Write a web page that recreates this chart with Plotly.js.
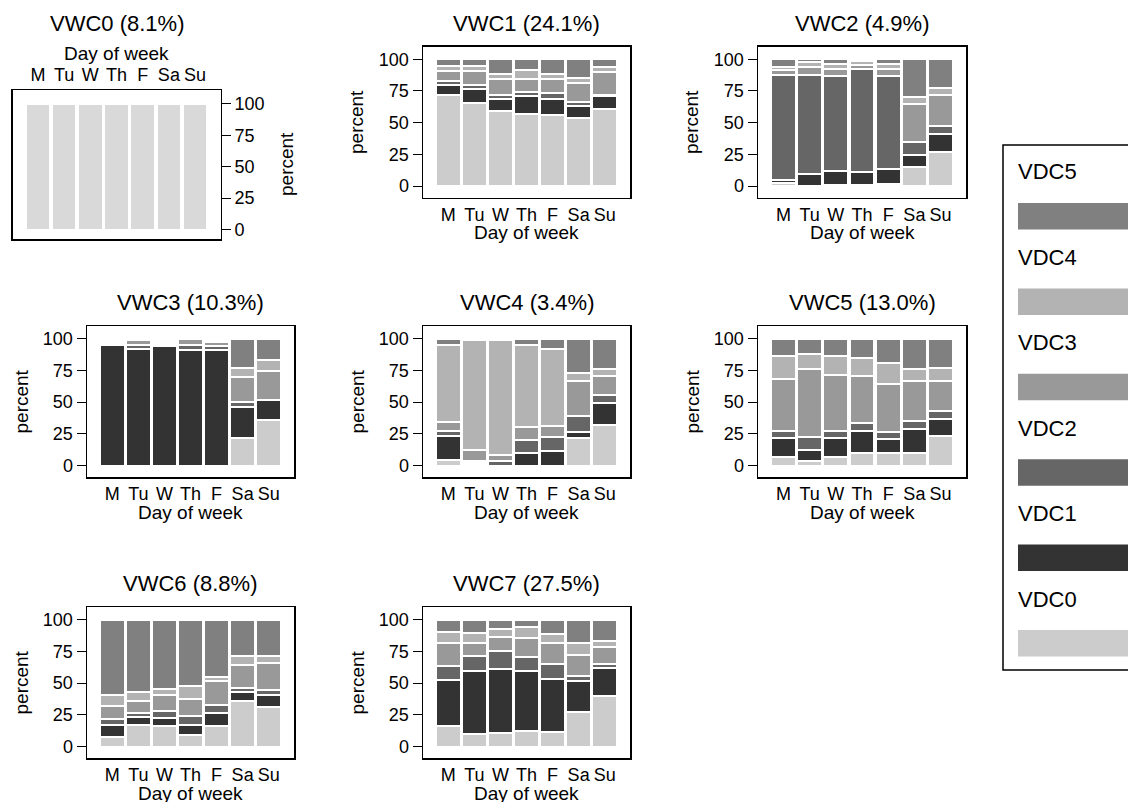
<!DOCTYPE html>
<html><head><meta charset="utf-8">
<script src="https://cdn.plot.ly/plotly-3.0.1.min.js"></script>
<style>html,body{margin:0;padding:0;background:#fff;} #chart{width:1128px;height:802px;}</style>
</head><body><div id="chart"></div>
<script>
// ---------- data ----------
const days = ['M', 'Tu', 'W', 'Th', 'F', 'Sa', 'Su'];
const vdcNames = ['VDC0', 'VDC1', 'VDC2', 'VDC3', 'VDC4', 'VDC5'];
const panelTitles = ['VWC0 (8.1%)', 'VWC1 (24.1%)', 'VWC2 (4.9%)', 'VWC3 (10.3%)',
                     'VWC4 (3.4%)', 'VWC5 (13.0%)', 'VWC6 (8.8%)', 'VWC7 (27.5%)'];
const yTicks = [0, 25, 50, 75, 100];

// percent per day (rows M..Su), columns VDC0..VDC5
const vwc0 = [
  [100, 0, 0, 0, 0, 0], [100, 0, 0, 0, 0, 0], [100, 0, 0, 0, 0, 0], [100, 0, 0, 0, 0, 0],
  [100, 0, 0, 0, 0, 0], [100, 0, 0, 0, 0, 0], [100, 0, 0, 0, 0, 0]];
const vwc1 = [
  [72.0, 8.0, 2.5, 8.0, 4.0, 5.5],
  [65.8, 10.8, 2.7, 11.2, 4.1, 5.4],
  [59.0, 9.8, 3.2, 12.2, 4.4, 11.4],
  [56.5, 14.2, 3.2, 10.6, 7.3, 8.2],
  [55.7, 12.8, 4.9, 10.8, 4.4, 11.4],
  [53.8, 9.0, 3.2, 15.0, 3.8, 15.2],
  [60.6, 10.3, 1.1, 17.7, 4.1, 6.2]];
const vwc2 = [
  [2.2, 2.8, 82.5, 4.0, 2.5, 6.0],
  [0.3, 9.2, 78.0, 6.0, 4.0, 2.5],
  [0.8, 10.9, 74.7, 6.0, 4.1, 3.5],
  [0.8, 10.1, 81.1, 3.5, 2.8, 1.7],
  [2.0, 11.6, 72.8, 6.0, 4.1, 3.5],
  [14.7, 9.5, 10.8, 30.0, 5.0, 30.0],
  [27.0, 14.0, 6.5, 24.5, 5.0, 23.0]];
const vwc3 = [
  [0, 95.4, 0, 0, 0, 0],
  [0, 91.8, 3.3, 3.5, 0, 0],
  [0, 94.5, 0, 0, 0, 0],
  [0, 91.3, 4.0, 4.6, 0, 0],
  [0, 90.8, 3.8, 2.7, 0, 0],
  [21.5, 24.5, 4.5, 19.1, 7.6, 22.8],
  [36.0, 15.4, 0.6, 22.5, 8.7, 16.8]];
const vwc4 = [
  [4.3, 19.3, 3.8, 6.8, 61.2, 4.6],
  [0.5, 1.7, 1.6, 8.2, 86.6, 0],
  [0, 0, 3.8, 4.9, 90.5, 0],
  [0, 9.8, 10.0, 10.6, 65.0, 4.6],
  [0, 11.1, 11.7, 8.7, 60.1, 8.4],
  [21.5, 4.6, 13.0, 27.2, 6.8, 26.9],
  [32.3, 17.2, 5.9, 15.3, 5.1, 24.2]];
const vwc5 = [
  [6.5, 15.0, 5.4, 41.3, 17.9, 13.9],
  [3.3, 9.2, 10.3, 53.6, 11.9, 11.7],
  [7.1, 14.9, 4.9, 44.8, 14.4, 13.9],
  [9.8, 17.6, 6.3, 36.7, 14.1, 15.5],
  [10.3, 10.6, 5.5, 38.0, 16.8, 18.8],
  [10.3, 18.5, 6.3, 31.7, 9.0, 24.2],
  [23.1, 13.6, 6.0, 23.6, 10.9, 22.8]];
const vwc6 = [
  [7.9, 9.5, 4.3, 10.4, 8.4, 59.5],
  [17.4, 6.0, 3.2, 9.0, 7.6, 56.8],
  [16.6, 6.0, 5.4, 13.0, 4.1, 54.9],
  [9.2, 7.9, 7.1, 13.6, 10.0, 52.2],
  [16.6, 9.5, 6.8, 19.0, 3.0, 45.1],
  [36.1, 7.1, 3.0, 17.9, 7.4, 28.5],
  [31.5, 9.5, 3.8, 20.7, 6.0, 28.5]];
const vwc7 = [
  [16.6, 35.8, 10.9, 18.5, 8.7, 9.5],
  [9.8, 49.4, 12.3, 10.3, 7.6, 10.6],
  [10.6, 50.8, 13.6, 11.4, 6.5, 7.1],
  [12.5, 46.7, 11.7, 14.4, 9.3, 5.4],
  [11.7, 41.6, 11.4, 17.1, 7.1, 11.1],
  [27.4, 24.0, 4.3, 16.6, 9.5, 18.2],
  [40.2, 21.8, 3.2, 13.3, 4.4, 17.1]];
const panels = [vwc0, vwc1, vwc2, vwc3, vwc4, vwc5, vwc6, vwc7];

// ---------- styles ----------
const vdcColors = ['#cccccc', '#333333', '#666666', '#999999', '#b3b3b3', '#808080'];
const vwc0Color = '#d9d9d9';
const W = 1128, H = 802;
const FONT = 'Liberation Sans, Arial, Helvetica, sans-serif';
// panel boxes in pixels: [left, right, top, bottom]
const boxes = [
  [12.5, 220.5, 90, 239],
  [423, 630, 46.5, 197.5],
  [758, 966, 46.5, 197.5],
  [87, 294, 326, 477],
  [423, 630, 326, 477],
  [758, 966, 326, 477],
  [87, 294, 607, 758],
  [423, 630, 607, 758]
];
const px = x => x / W;
const py = y => 1 - y / H;

const traces = [];
const layout = {
  width: W, height: H,
  margin: {l: 0, r: 0, t: 0, b: 0},
  paper_bgcolor: '#fff', plot_bgcolor: '#fff',
  barmode: 'stack', bargap: 0.057,
  font: {family: FONT, color: '#000', size: 18},
  showlegend: false,
  annotations: [], shapes: []
};

panels.forEach((data, i) => {
  const n = i + 1;
  const [l, r, t, b] = boxes[i];
  const xk = n === 1 ? 'xaxis' : 'xaxis' + n;
  const yk = n === 1 ? 'yaxis' : 'yaxis' + n;
  layout[xk] = {
    domain: [px(l), px(r)], anchor: 'y' + n, type: 'category',
    categoryorder: 'array', categoryarray: days,
    range: [-0.97, 6.97], showline: true, mirror: true, linecolor: '#000', linewidth: 1.5,
    ticks: '', showgrid: false, zeroline: false, fixedrange: true,
    tickfont: {size: 18, color: '#000'}, side: i === 0 ? 'top' : 'bottom'
  };
  layout[yk] = {
    domain: [py(b), py(t)], anchor: 'x' + n,
    range: i === 0 ? [-7.5, 111] : [-9, 110],
    tickmode: 'array', tickvals: yTicks, ticktext: yTicks.map(String),
    ticks: 'outside', ticklen: 9, tickwidth: 1, tickcolor: '#000',
    showline: true, mirror: true, linecolor: '#000', linewidth: 1.5,
    showgrid: false, zeroline: false, fixedrange: true,
    tickfont: {size: 18, color: '#000'}, side: i === 0 ? 'right' : 'left'
  };
  vdcNames.forEach((name, k) => {
    traces.push({
      type: 'bar', name: name, x: days, y: data.map(row => row[k]),
      xaxis: 'x' + n, yaxis: 'y' + n,
      marker: {color: i === 0 ? vwc0Color : vdcColors[k], line: {color: '#ffffff', width: 2}},
      hoverinfo: 'skip', showlegend: false
    });
  });
  const cx = (l + r) / 2, cy = (t + b) / 2;
  layout.annotations.push({
    text: panelTitles[i], xref: 'paper', yref: 'paper', x: px(cx),
    y: py(i === 0 ? 23 : t - 23.5),
    xanchor: 'center', yanchor: 'middle', showarrow: false, font: {size: 22}
  });
  layout.annotations.push({
    text: 'Day of week', xref: 'paper', yref: 'paper', x: px(cx),
    y: py(i === 0 ? t - 37 : b + 35.5), xanchor: 'center', yanchor: 'middle',
    showarrow: false, font: {size: 19}
  });
  layout.annotations.push({
    text: 'percent', xref: 'paper', yref: 'paper', x: px(i === 0 ? r + 66 : l - 66), y: py(cy),
    xanchor: 'center', yanchor: 'middle', textangle: -90, showarrow: false, font: {size: 19}
  });
});

// ---------- legend (key box on the right, partly outside the page) ----------
layout.shapes.push({
  type: 'rect', xref: 'paper', yref: 'paper', x0: px(1003), x1: px(1160), y0: py(670), y1: py(145),
  line: {color: '#000', width: 1.5}, fillcolor: 'rgba(0,0,0,0)'
});
const keyOrder = [5, 4, 3, 2, 1, 0];
keyOrder.forEach((k, j) => {
  const ty = 172 + j * 85.4;
  const ry0 = 203 + j * 85.4;
  layout.annotations.push({
    text: vdcNames[k], xref: 'paper', yref: 'paper', x: px(1016), y: py(ty),
    xanchor: 'left', yanchor: 'middle', showarrow: false, font: {size: 22}
  });
  layout.shapes.push({
    type: 'rect', xref: 'paper', yref: 'paper', x0: px(1018), x1: px(1160),
    y0: py(ry0 + 26.5), y1: py(ry0), line: {width: 0}, fillcolor: vdcColors[k]
  });
});

Plotly.newPlot('chart', traces, layout, {staticPlot: true, displayModeBar: false});
</script>
</body></html>
